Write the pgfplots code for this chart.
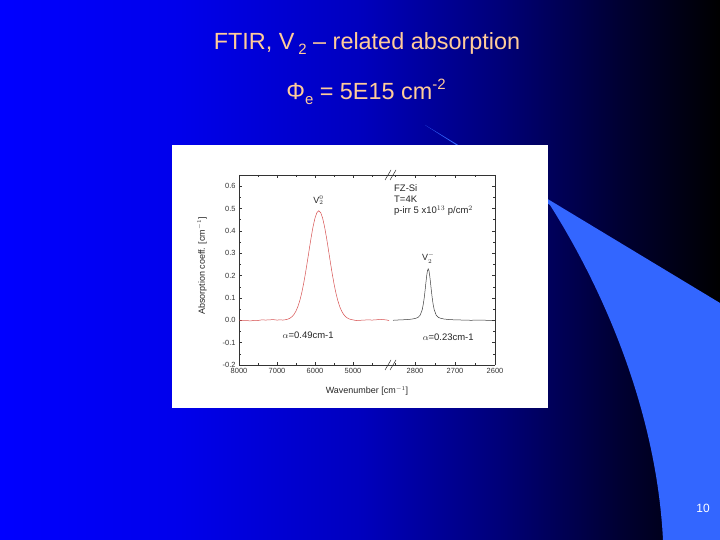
\documentclass[border=0pt]{standalone}
\usepackage{pgfplots}
\pgfplotsset{compat=1.18}
\usepackage{fontspec}
\setmainfont{Liberation Sans}
\definecolor{titlec}{RGB}{255,204,153}
\definecolor{swoosh}{RGB}{51,102,255}
\definecolor{c0}{RGB}{0,0,255}
\definecolor{c1}{RGB}{0,0,235}
\definecolor{c2}{RGB}{0,0,190}
\definecolor{c3}{RGB}{0,0,120}
\definecolor{c4}{RGB}{0,0,50}
\definecolor{c5}{RGB}{0,0,0}
\definecolor{redc}{RGB}{215,80,80}
\definecolor{grayc}{RGB}{60,60,60}
\pgfplotsset{
  slideaxis/.style={
    scale only axis, height=190bp,
    ymin=-0.2, ymax=0.65,
    x dir=reverse,
    axis x line*=box,
    axis line style={-, black!80, line width=0.5bp},
    ytick={-0.2,-0.1,0,0.1,0.2,0.3,0.4,0.5,0.6},
    minor y tick num=1,
    tick align=inside,
    major tick length=3bp, minor tick length=1.6bp,
    tick style={black!80, line width=0.4bp},
    tick label style={font=\fontsize{7.5}{8}\selectfont, text=black!80},
    /pgf/number format/assume math mode=true,
    xticklabel style={/pgf/number format/1000 sep={}},
    yticklabel style={/pgf/number format/fixed, /pgf/number format/fixed zerofill, /pgf/number format/precision=1},
    clip=true,
  }
}
\begin{document}
\begin{tikzpicture}
\begin{scope}[x=1bp,y=1bp]
\useasboundingbox (0,0) rectangle (720,540);
% background gradient
\shade[left color=c0,right color=c1] (0,0) rectangle (180.5,540);
\shade[left color=c1,right color=c2] (180,0) rectangle (360.5,540);
\shade[left color=c2,right color=c3] (360,0) rectangle (500.5,540);
\shade[left color=c3,right color=c4] (500,0) rectangle (620.5,540);
\shade[left color=c4,right color=c5] (620,0) rectangle (720,540);
\begin{scope}
\clip (0,0) rectangle (720,540);
\fill[swoosh] (425,415) -- (720,237) -- (720,0) -- (663,0) .. controls (657,120) and (610,240) .. (550,335) -- cycle;
\end{scope}
% titles
\node[text=titlec, font=\fontsize{23.5}{28}\selectfont] at (367,496) {FTIR, V\,\raisebox{-0.4ex}{\fontsize{15}{15}\selectfont 2} – related absorption};
\node[text=titlec, font=\fontsize{23.5}{28}\selectfont] at (366,448) {Φ\raisebox{-0.4ex}{\fontsize{15}{15}\selectfont e} = 5E15 cm\raisebox{0.8ex}{\fontsize{15}{15}\selectfont -2}};
\node[text=white, font=\fontsize{12}{12}\selectfont] at (703,32) {10};
% white figure box
\fill[white] (172,132) rectangle (548,395);
\end{scope}
% left axis
\begin{axis}[slideaxis, at={(239bp,175bp)}, anchor=south west, width=152bp,
  xmin=4000, xmax=8000, axis y line*=left,
  xtick={5000,6000,7000,8000}, minor xtick={4500,5500,6500,7500}]
\addplot[redc, line width=0.5bp] coordinates {
(8000,0.001) (7900,-0.002) (7800,-0.001) (7700,-0.003) (7600,0.000) (7500,-0.001)
(7400,0.002) (7300,0.001) (7200,0.002) (7100,0.003) (7000,0.001) (6900,0.002)
(6850,0.001) (6800,0.0019) (6750,0.0035) (6700,0.0061) (6650,0.0104) (6600,0.0170)
(6550,0.0270) (6500,0.0415) (6450,0.0615) (6400,0.0882) (6350,0.1222) (6300,0.1635)
(6250,0.2115) (6200,0.2643) (6150,0.3192) (6100,0.3724) (6050,0.4199) (6000,0.4575)
(5950,0.4817) (5900,0.49) (5850,0.4817) (5800,0.4575) (5750,0.4199) (5700,0.3724)
(5650,0.3192) (5600,0.2643) (5550,0.2115) (5500,0.1635) (5450,0.1222) (5400,0.0882)
(5350,0.0615) (5300,0.0415) (5250,0.0270) (5200,0.0170) (5150,0.0104) (5100,0.0061)
(5050,0.0035) (5000,0.0019) (4950,0.000) (4900,-0.001) (4800,0.000) (4700,0.001) (4600,0.002)
(4500,0.001) (4400,0.002) (4300,0.004) (4200,0.003) (4100,0.001) (4050,-0.002)
};
\node[font=\fontsize{9}{9}\selectfont, anchor=south, text=black!85] at (axis cs:5910,0.50) {V$_2^0$};
\node[font=\fontsize{9.5}{10}\selectfont, text=black!85] at (axis cs:6180,-0.065) {$\alpha$=0.49cm-1};
\end{axis}
% right axis
\begin{axis}[slideaxis, at={(391bp,175bp)}, anchor=south west, width=104bp,
  xmin=2600, xmax=2860, axis y line*=right, yticklabels={},
  xtick={2600,2700,2800}, minor xtick={2650,2750,2850}]
\addplot[grayc, line width=0.5bp] coordinates {
(2855,0.000) (2845,0.001) (2837,0.0019) (2827,0.0025) (2817,0.0036) (2807,0.0055)
(2797,0.0095) (2792,0.0137) (2787,0.0231) (2782,0.0472) (2779,0.0749) (2777,0.1003)
(2775,0.1307) (2773,0.1641) (2771,0.1963) (2769,0.2207) (2767,0.23)
(2765,0.2207) (2763,0.1963) (2761,0.1641) (2759,0.1307) (2757,0.1003) (2755,0.0749)
(2752,0.0472) (2747,0.0231) (2742,0.0137) (2737,0.0095) (2727,0.0055) (2717,0.0036)
(2707,0.0025) (2697,0.0019) (2680,0.001) (2660,0.000) (2640,0.001) (2620,0.000) (2600,0.000)
};
\node[font=\fontsize{9}{9}\selectfont, anchor=south, text=black!85] at (axis cs:2767,0.24) {V$_2^-$};
\node[font=\fontsize{9.5}{10}\selectfont, text=black!85] at (axis cs:2717,-0.075) {$\alpha$=0.23cm-1};
\end{axis}
\begin{scope}[x=1bp,y=1bp]
% break marks
\draw[black!85, line width=0.5bp] (385,360) -- (391,370) (390,360) -- (396,370);
\draw[black!85, line width=0.5bp] (385,170) -- (391,180) (390,170) -- (396,180);
% labels
\node[font=\fontsize{9}{10}\selectfont, text=black!85, rotate=90] at (202,274) {Absorption coeff. [cm$^{-1}$]};
\node[font=\fontsize{9}{10}\selectfont, text=black!85] at (367,149) {Wavenumber [cm$^{-1}$]};
\node[font=\fontsize{9.5}{11.5}\selectfont, text=black!85, anchor=north west, align=left, inner sep=0pt] at (394,356) {FZ-Si\\T=4K\\p-irr 5 x10$^{13}$ p/cm$^{2}$};
\end{scope}
\end{tikzpicture}
\end{document}
